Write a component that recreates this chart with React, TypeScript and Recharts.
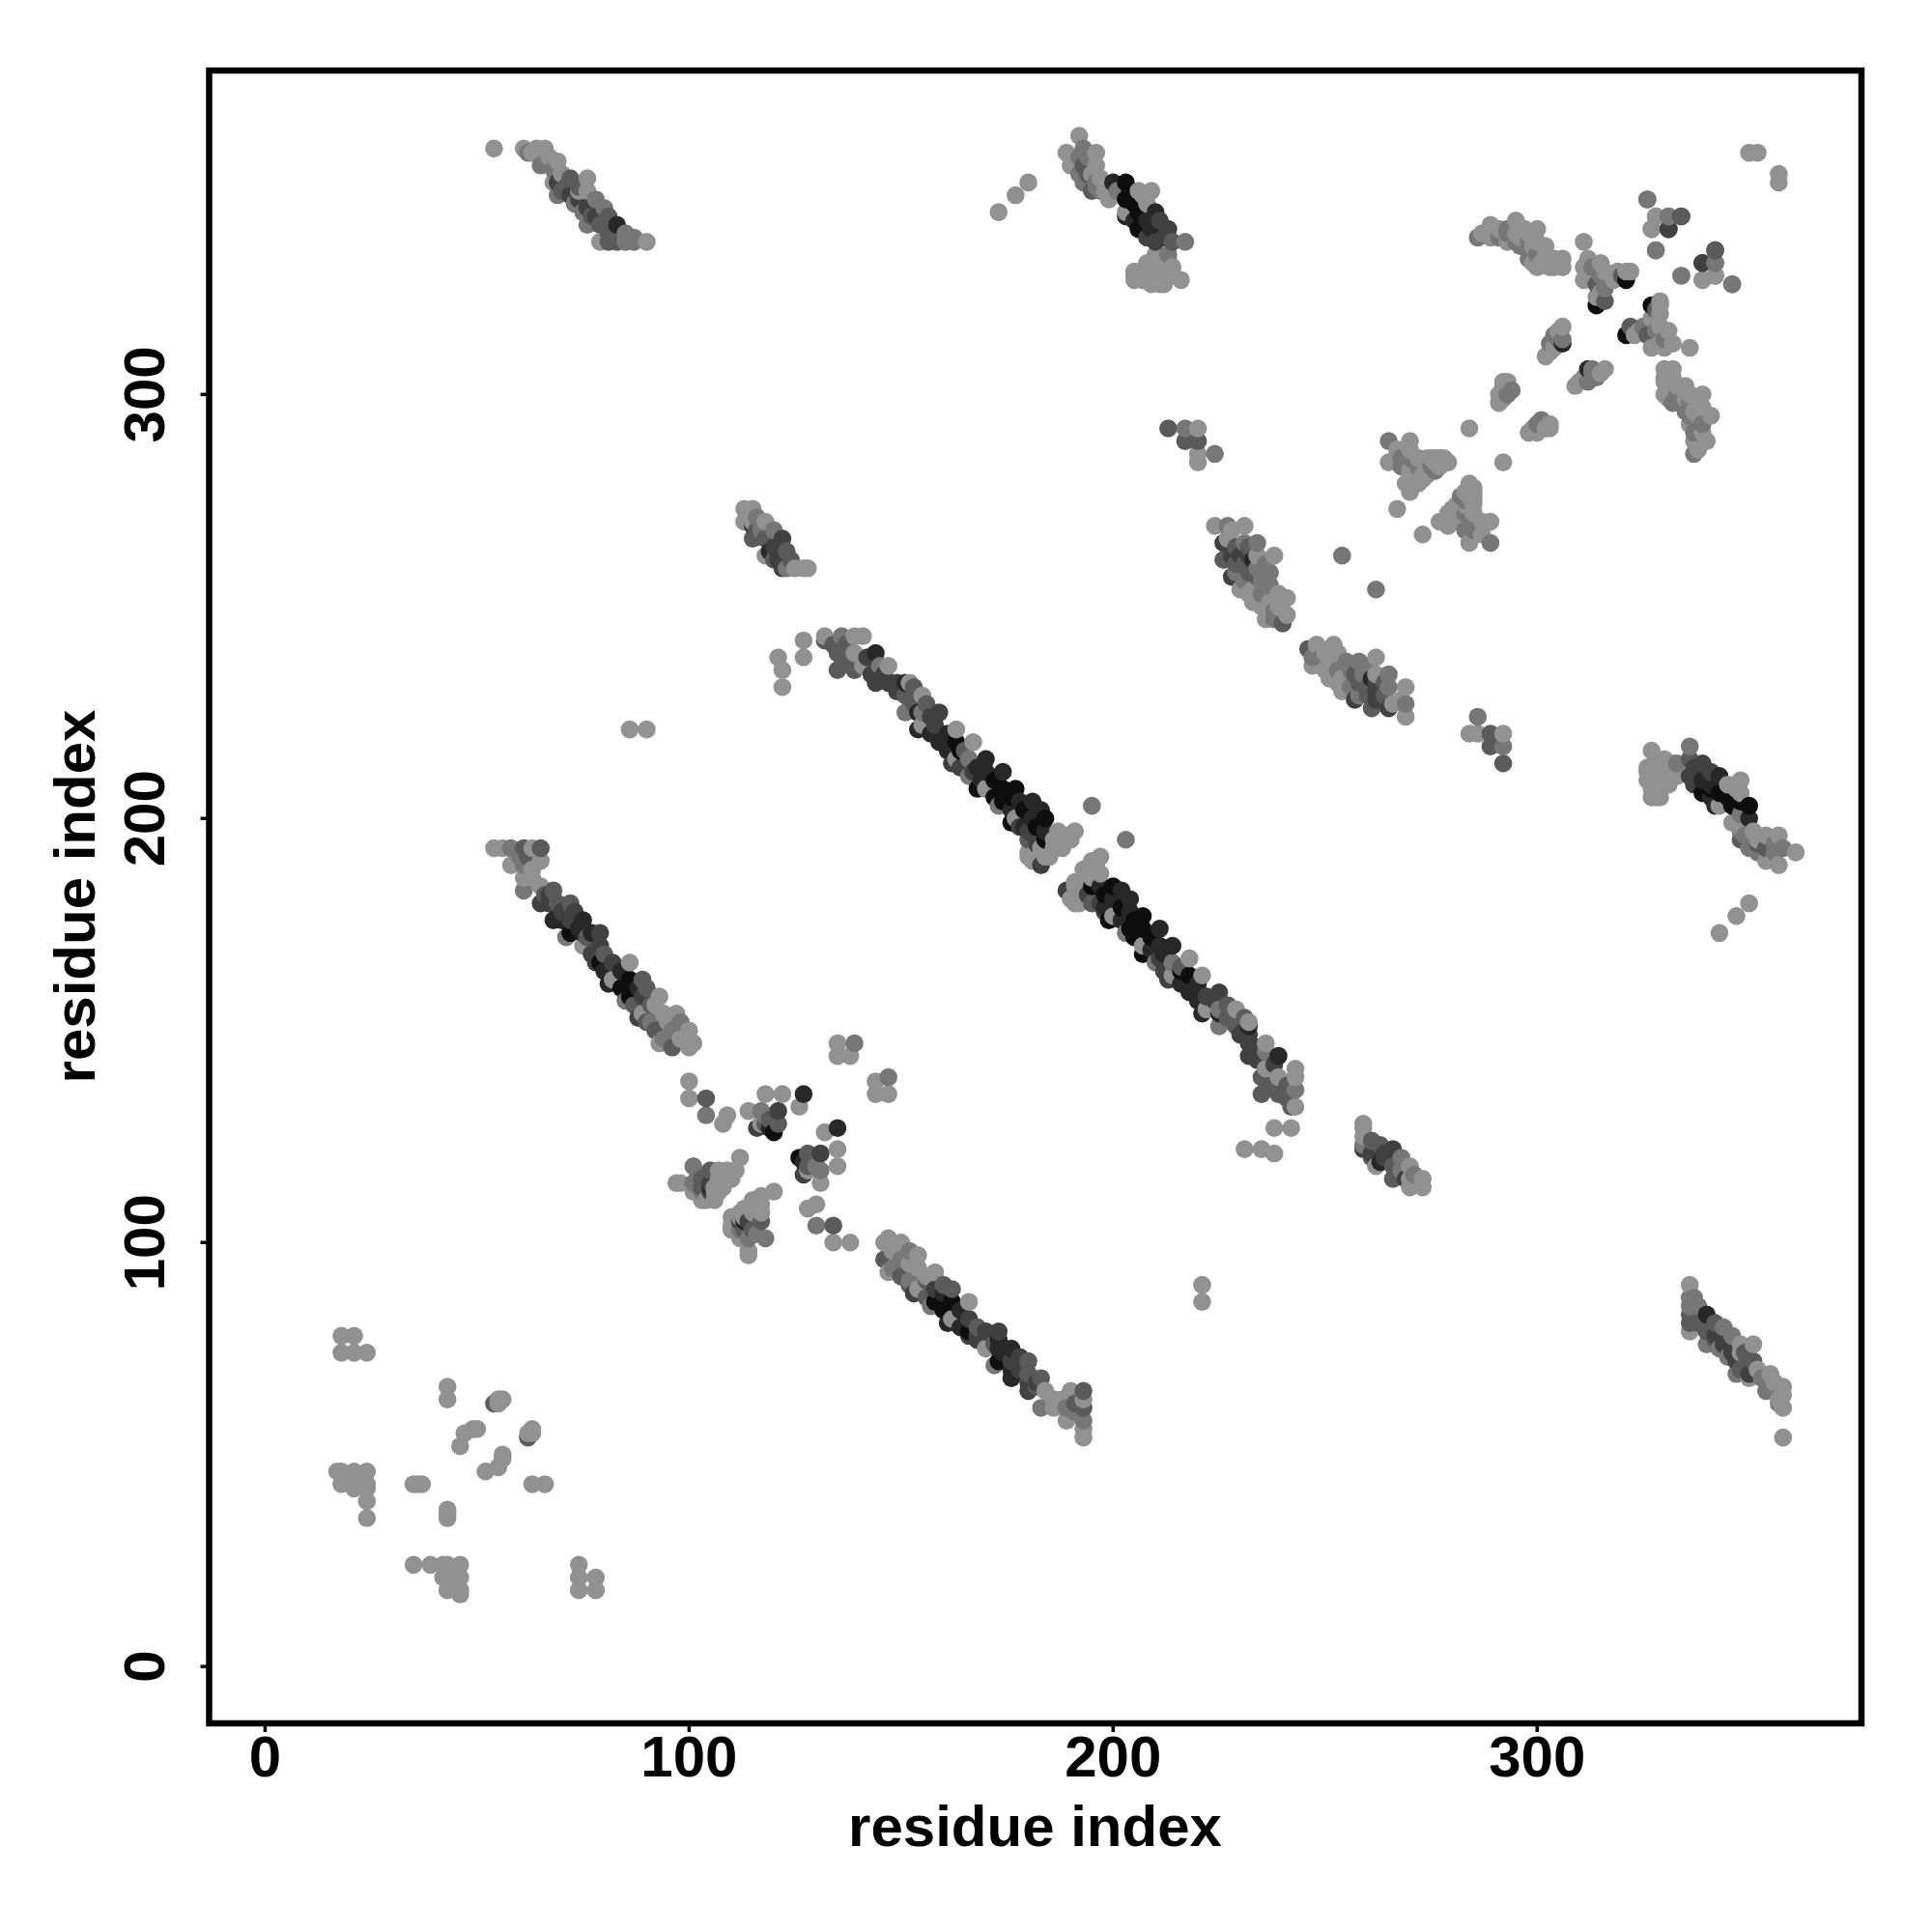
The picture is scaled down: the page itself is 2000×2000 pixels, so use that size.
import React from "react";
import { ScatterChart, Scatter, XAxis, YAxis, ReferenceArea } from "recharts";

type Contact = [number, number, number];

const axisTicks = [0, 100, 200, 300];
const xDomain = [-13.2, 376.5];
const yDomain = [-13.4, 376.4];
const axisTitle = "residue index";
const shades = ["#919191", "#777777", "#5b5b5b", "#414141", "#282828", "#0e0e0e"];

// each contact: residue i, residue j, confidence level (1 weak .. 6 strong); the map is symmetric
const strandA: Contact[] = [
  [54,193,1],[56,193,1],[58,193,2],[61,193,3],[63,193,1],[65,193,3],[58,189,1],[61,189,2],[65,190,1],[61,186,1],
  [61,183,2],[65,184,1],[68,183,3],[65,180,4],[69,180,3],[72,180,3],[68,176,5],[72,176,4],[75,176,5],[72,173,6],
  [71,172,2],[75,173,5],[79,173,4],[79,170,4],[75,170,1],[78,166,4],[79,166,6],[82,166,4],[86,166,1],[82,162,1],
  [81,161,5],[86,162,6],[85,157,2],[89,162,3],[86,158,6],[89,158,4],[93,158,1],[88,153,4],[89,154,1],[94,154,1],
  [97,154,1],[92,150,3],[96,150,2],[100,150,1],[93,147,1],[96,146,3],[100,146,1],[101,147,1],
  [60,191,2],[62,191,3],[63,188,1],[63,186,1],[66,182,3],[67,180,4],[67,182,4],[70,178,4],[70,176,5],[73,178,4],
  [74,174,5],[77,173,5],[76,172,3],[77,168,4],[78,168,4],[80,168,3],[80,164,5],[84,164,5],[84,160,6],[87,160,6],
  [88,160,5],[90,160,3],[87,156,3],[91,156,3],[92,156,1],[90,152,3],[91,152,2],[95,152,1],[98,152,2],[94,148,2],[98,148,1],
];
const crossA: Contact[] = [
  [100,138,1],[100,134,1],[104,134,3],[104,130,2],[108,128,1],[109,130,1],[114,131,1],[118,135,1],[122,135,1],
  [117,131,2],[121,131,4],[121,128,3],[116,127,4],[117,128,1],[120,126,6],[127,135,5],[126,132,1],[135,147,1],
  [139,147,2],[135,144,1],[138,144,1],[101,118,2],[105,117,3],[109,117,1],[111,117,1],[112,120,1],[97,114,1],
  [101,114,2],[105,113,5],[106,113,1],[101,112,1],[104,110,1],[106,112,1],[105,114,4],
  [102,116,2],[103,115,3],[103,113,3],[107,115,1],[103,112,2],[107,112,1],[103,110,1],[105,112,4],[106,110,1],
  [118,128,3],[118,130,2],[119,129,3],[119,127,5],[108,113,1],[108,116,1],[107,117,1],[110,115,1],[98,114,1],
];
const strandB: Contact[] = [
  [121,238,1],[122,235,1],[122,231,1],[127,242,1],[127,238,1],[132,242,3],[132,243,1],[136,243,2],[135,239,3],
  [135,235,3],[139,243,1],[141,243,1],[139,239,1],[139,235,3],[141,236,1],[144,239,5],[145,236,2],[147,236,1],
  [144,232,4],[147,232,4],[151,232,5],[152,232,1],[151,229,3],[155,229,1],[151,225,2],[154,225,5],[155,225,2],
  [159,225,4],[154,221,5],[155,222,1],[158,222,4],[163,221,1],[159,218,5],[163,218,6],[167,218,1],[162,213,4],
  [163,214,1],[166,214,2],[170,214,5],[166,210,2],[167,211,4],[170,211,5],[174,211,5],[168,207,6],[170,207,1],
  [174,207,6],[177,207,6],[173,203,2],[174,204,6],[178,204,5],[181,204,5],[195,203,2],[176,199,6],[177,200,1],
  [181,200,5],[184,200,6],[180,197,4],[184,197,5],[187,197,1],[191,197,1],[188,195,1],[180,195,3],[184,195,6],
  [180,192,1],[183,189,4],[180,191,1],[185,191,1],
  [134,241,3],[137,241,3],[137,237,3],[142,238,4],[143,234,4],[146,234,4],[149,230,4],[149,232,4],[150,231,4],
  [153,227,3],[153,231,3],[156,227,3],[157,224,4],[157,220,5],[158,220,5],[161,220,5],[161,216,5],[164,216,6],
  [165,216,3],[164,212,4],[168,212,5],[169,209,5],[172,209,6],[172,205,6],[175,205,6],[176,205,6],[176,202,5],
  [179,202,6],[183,202,5],[179,198,5],[182,198,6],[186,195,1],[182,193,1],[183,193,1],[186,193,1],[188,193,1],
  [184,191,1],[189,196,1],[181,190,1],[182,194,4],[178,198,4],[190,195,1],[187,194,1],
];
const strandD: Contact[] = [
  [54,358,1],[61,358,1],[62,357,2],[64,358,1],[66,358,1],[65,354,2],[69,355,1],[69,350,4],[68,350,1],[69,347,2],
  [72,351,3],[76,351,1],[72,347,4],[76,348,1],[75,343,2],[76,344,4],[80,344,2],[76,340,2],[79,340,3],[83,340,5],
  [79,336,1],[83,336,3],[87,337,2],[87,336,2],[90,336,1],
  [63,357,1],[67,356,1],[68,353,2],[70,352,1],[70,348,3],[71,349,3],[74,349,3],[73,345,2],[74,346,4],[78,346,2],
  [78,342,4],[77,342,3],[81,342,3],[81,338,3],[85,338,2],[85,336,2],[81,336,3],[74,348,1],
];
const strandE: Contact[] = [
  [173,343,1],[177,347,1],[180,350,1],[192,361,1],[189,357,1],[193,358,2],[196,357,1],[190,354,1],[193,354,3],
  [196,354,1],[193,350,2],[196,350,2],[196,349,2],[200,350,5],[203,350,6],[199,346,1],[203,346,6],[207,347,1],
  [203,342,5],[203,343,1],[206,343,6],[210,343,5],[206,339,6],[209,339,5],[213,339,4],[210,336,4],[214,336,3],
  [217,336,2],[210,333,1],[213,333,2],[210,332,1],[213,332,1],[205,329,1],[205,327,1],[209,327,1],[209,326,1],
  [212,327,1],[212,326,1],[216,327,1],[210,329,1],[212,329,1],
  [205,328,1],[207,327,1],[207,329,1],[208,331,1],[209,330,1],[210,331,1],[211,330,1],[211,328,1],[213,331,1],
  [213,329,1],[214,328,1],[214,330,1],[210,327,1],[211,326,1],[191,356,1],[192,356,2],[194,356,2],[194,352,3],
  [192,352,2],[195,352,1],[195,348,3],[197,348,2],[198,348,1],[197,351,1],[201,348,2],[204,348,6],[205,345,6],
  [207,345,6],[205,341,5],[207,341,6],[208,341,5],[211,341,4],[208,337,4],[212,337,4],[208,345,1],[209,348,1],[206,348,1],
];
const strandF: Contact[] = [
  [286,337,2],[289,340,1],[289,337,1],[293,339,2],[295,341,1],[293,336,1],[298,338,1],[300,339,1],[295,338,1],
  [298,334,2],[302,335,1],[300,330,1],[302,331,1],[306,332,1],[306,330,1],[303,330,1],[311,336,1],[312,332,1],
  [311,327,1],[315,331,1],[315,328,2],[314,326,3],[318,327,1],[321,327,6],[320,328,3],[322,329,1],[315,324,1],
  [316,322,3],[314,321,6],[306,316,1],[306,312,5],[306,313,2],[303,312,2],[302,309,1],[292,303,1],[294,301,2],
  [291,300,1],[291,298,1],[284,292,1],[265,289,2],[270,289,1],[265,284,1],[270,285,2],[272,285,1],[275,285,1],
  [277,285,1],[278,284,1],[270,282,1],[272,281,1],[276,282,2],[270,277,1],[272,279,1],[267,273,1],
  [326,346,2],[328,342,1],[331,342,2],[334,342,4],[327,339,1],[331,339,4],[328,334,1],[334,328,2],[342,334,3],
  [339,331,4],[342,331,2],[339,327,1],[342,328,1],[346,326,2],[350,357,1],[352,357,1],
  [267,287,1],[268,285,2],[268,283,2],[270,287,1],[272,283,2],[274,283,1],[274,285,1],[276,284,1],[276,285,1],
  [278,285,1],[279,284,1],[273,281,1],[274,281,1],[275,283,2],[271,279,1],[273,280,1],[269,279,1],[270,280,1],[277,283,1],
  [291,339,1],[291,337,2],[293,338,2],[295,336,2],[296,337,1],[297,339,1],[296,335,2],[298,336,2],[299,335,1],
  [300,336,1],[300,333,2],[302,333,1],[301,331,1],[304,332,1],[304,330,1],[305,331,1],[299,331,1],[298,332,2],[287,338,1],
  [311,330,1],[312,329,1],[313,330,2],[316,329,1],[319,329,1],[321,329,1],[314,323,1],[316,325,2],
  [304,314,2],[305,315,1],[304,311,1],[305,313,2],[303,310,1],[292,302,1],[293,300,2],[292,299,1],[293,303,1],
];
const strandG: Contact[] = [
  [224,269,1],[227,269,2],[231,269,1],[226,265,4],[227,266,1],[226,261,3],[231,265,2],[234,265,2],[230,262,4],
  [233,261,5],[234,262,1],[238,262,1],[237,258,2],[228,257,4],[229,258,2],[234,259,2],[234,257,3],[230,254,1],
  [233,254,1],[237,255,2],[237,251,1],[233,251,1],[241,252,1],[240,246,3],[241,248,1],[236,247,1],[254,262,2],
  [228,268,1],[229,264,3],[228,262,4],[232,264,3],[232,262,4],[231,260,3],[232,258,3],[231,256,2],[235,256,2],
  [232,253,1],[235,253,2],[235,250,1],[239,250,1],[238,249,2],[238,247,2],[239,253,1],[229,260,3],[236,260,2],
];
const strandH: Contact[] = [
  [113,273,1],[115,273,1],[113,270,1],[115,269,4],[115,270,1],[118,270,1],[115,266,3],[118,266,3],[122,266,4],
  [118,262,1],[119,263,5],[123,263,3],[122,259,4],[123,259,2],[127,259,1],[128,259,1],
  [114,271,1],[116,271,2],[116,268,3],[117,268,2],[120,268,2],[120,264,4],[121,264,4],[120,261,3],[121,261,4],[125,259,1],[124,261,3],
];
const patchI: Contact[] = [
  [213,292,3],[217,292,2],[220,292,1],[217,289,3],[220,289,3],[220,286,1],[220,284,1],[224,286,2],[86,221,1],[90,221,1],
];
const patchM: Contact[] = [
  [18,78,1],[21,78,1],[18,74,1],[21,74,1],[24,74,1],[43,66,1],[43,63,1],[54,62,3],[55,63,1],[56,63,1],[55,62,1],
  [47,55,1],[49,56,1],[50,56,1],[46,52,1],[17,46,1],[18,46,1],[21,46,1],[24,46,1],[18,43,1],[20,44,1],[21,42,1],
  [22,44,1],[23,44,1],[24,43,1],[24,42,1],[24,39,1],[24,35,1],[35,43,1],[36,43,1],[37,43,1],
];

const contacts = [...strandA, ...crossA, ...strandB, ...strandD, ...strandE, ...strandF, ...strandG, ...strandH, ...patchI, ...patchM];
const points = contacts
  .flatMap(([i, j, level]) => [{ x: i, y: j, level }, { x: j, y: i, level }])
  .sort((a, b) => a.x - b.x || a.y - b.y);

const FONT = "'Liberation Sans', Arial, sans-serif";

const Dot = (p: any) => <circle cx={p.cx} cy={p.cy} r={9.3} fill={shades[p.payload.level - 1]} />;

const XTick = (p: any) => (
  <text x={p.x} y={1839} textAnchor="middle" fontFamily={FONT} fontWeight={700} fontSize={60} fill="#000">
    {p.payload.value}
  </text>
);
const YTick = (p: any) => (
  <text x={170} y={p.y} transform={`rotate(-90 170 ${p.y})`} textAnchor="middle" fontFamily={FONT} fontWeight={700} fontSize={60} fill="#000">
    {p.payload.value}
  </text>
);
const XTitle = () => (
  <text x={1071.5} y={1911} textAnchor="middle" fontFamily={FONT} fontWeight={700} fontSize={60} fill="#000">
    {axisTitle}
  </text>
);
const YTitle = () => (
  <text x={98} y={928} transform="rotate(-90 98 928)" textAnchor="middle" fontFamily={FONT} fontWeight={700} fontSize={60} fill="#000">
    {axisTitle}
  </text>
);

export default function App() {
  return (
    <div style={{ position: "absolute", left: 0, top: 0, background: "#fff" }}>
      <ScatterChart width={2000} height={2000} margin={{ top: 73, right: 73, bottom: 16, left: 16.5 }}>
        <XAxis
          type="number"
          dataKey="x"
          domain={xDomain}
          ticks={axisTicks}
          allowDataOverflow
          height={200}
          axisLine={false}
          tickSize={9}
          tickLine={{ stroke: "#000", strokeWidth: 3.5 }}
          tick={XTick}
          label={<XTitle />}
        />
        <YAxis
          type="number"
          dataKey="y"
          domain={yDomain}
          ticks={axisTicks}
          allowDataOverflow
          width={200}
          axisLine={false}
          tickSize={9}
          tickLine={{ stroke: "#000", strokeWidth: 3.5 }}
          tick={YTick}
          label={<YTitle />}
        />
        <ReferenceArea x1={xDomain[0]} x2={xDomain[1]} y1={yDomain[0]} y2={yDomain[1]} fill="none" fillOpacity={0} stroke="#000" strokeWidth={6.5} ifOverflow="visible" />
        <Scatter data={points} isAnimationActive={false} shape={Dot} />
      </ScatterChart>
    </div>
  );
}
